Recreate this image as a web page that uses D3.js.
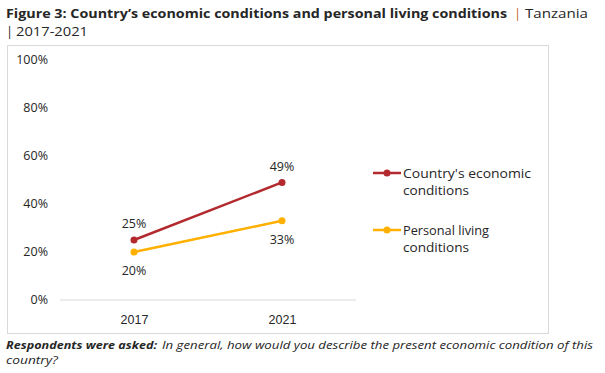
<!DOCTYPE html>
<html lang="en">
<head>
<meta charset="UTF-8">
<title>Figure 3: Country's economic conditions and personal living conditions</title>
<script src="https://cdnjs.cloudflare.com/ajax/libs/d3/7.8.5/d3.min.js"></script>
<style>
    body { margin: 0; background: #fff; }
    svg { display: block; font-family: 'Open Sans', sans-serif; }
    text { fill: #262626; }
</style>
</head>
<body>
<div id="chart"></div>
<script>
// data
const years = ["2017", "2021"];
const economicValues = [25, 49];
const personalValues = [20, 33];
const seriesNames = ["Country's economic conditions", "Personal living conditions"];
const yTicks = [0, 20, 40, 60, 80, 100];

const width = 605, height = 373;
const svg = d3.select("#chart").append("svg")
    .attr("width", width)
    .attr("height", height);

// helper: text stretched to a measured width
function label(x0, y0, str, len, size, extra) {
    const t = svg.append("text").attr("x", x0).attr("y", y0)
        .style("font-size", size + "px").text(str);
    if (len) t.attr("textLength", len).attr("lengthAdjust", "spacingAndGlyphs");
    if (extra) extra(t);
    return t;
}

// title
label(6, 18, "Figure 3: Country\u2019s economic conditions and personal living conditions", 501, 13,
    t => t.style("font-weight", "bold"));
label(514, 18, "|", null, 13, t => t.style("fill", "#c0622a"));
label(525, 18, "Tanzania", 63, 13);
label(6, 36, "|", null, 13);
label(16, 36, "2017-2021", 72, 13);

// chart frame
svg.append("rect")
    .attr("x", 7.5).attr("y", 45.5)
    .attr("width", 541).attr("height", 288)
    .attr("fill", "none").attr("stroke", "#d9d9d9");

const x = d3.scalePoint().domain(years).range([60, 356]).padding(0.5);
const y = d3.scaleLinear().domain([0, 100]).range([300, 60]);

// y axis labels
svg.append("g").selectAll("text")
    .data(yTicks).join("text")
    .attr("x", 48).attr("y", d => y(d))
    .attr("dy", "0.35em")
    .attr("text-anchor", "end")
    .style("font-size", "12.5px")
    .text(d => d + "%");

// x axis
const xAxis = svg.append("g")
    .attr("transform", `translate(0,${y(0)})`)
    .call(d3.axisBottom(x).tickSize(0).tickPadding(15));
xAxis.select(".domain").attr("stroke", "#d9d9d9").attr("d", "M60,0H356");
xAxis.selectAll("text").style("font-size", "12.5px").style("font-family", "inherit").attr("fill", "#262626");

const series = [
    { name: seriesNames[0], values: economicValues, color: "#b22a2e", labelDy: -16 },
    { name: seriesNames[1], values: personalValues, color: "#ffb000", labelDy: 19 }
];

const line = d3.line().x((d, i) => x(years[i])).y(d => y(d));

series.forEach(s => {
    svg.append("path")
        .datum(s.values)
        .attr("d", line)
        .attr("fill", "none")
        .attr("stroke", s.color)
        .attr("stroke-width", 2.5);
    svg.append("g").selectAll("circle")
        .data(s.values).join("circle")
        .attr("cx", (d, i) => x(years[i]))
        .attr("cy", d => y(d))
        .attr("r", 3.5)
        .attr("fill", s.color);
    svg.append("g").selectAll("text")
        .data(s.values).join("text")
        .attr("x", (d, i) => x(years[i]))
        .attr("y", d => y(d) + s.labelDy)
        .attr("dy", "0.35em")
        .attr("text-anchor", "middle")
        .style("font-size", "12.5px")
        .text(d => d + "%");
});

// legend
const legendLines = [["Country's economic", "conditions"], ["Personal living", "conditions"]];
series.forEach((s, i) => {
    const g = svg.append("g").attr("transform", `translate(373,${173 + i * 57})`);
    g.append("line").attr("x1", 0).attr("x2", 28).attr("y1", 0).attr("y2", 0)
        .attr("stroke", s.color).attr("stroke-width", 2.5);
    g.append("circle").attr("cx", 14).attr("cy", 0).attr("r", 3.5).attr("fill", s.color);
    const t = g.append("text").attr("x", 30).attr("y", 0).style("font-size", "13px");
    legendLines[i].forEach((l, j) => {
        t.append("tspan").attr("x", 30).attr("dy", j === 0 ? "0.35em" : "17.8")
            .attr("textLength", j === 0 ? (i === 0 ? 128 : 86) : 66)
            .attr("lengthAdjust", "spacingAndGlyphs")
            .text(l);
    });
});

// footer
label(6, 349, "Respondents were asked:", 151, 11,
    t => t.style("font-weight", "bold").style("font-style", "italic"));
label(162, 349, "In general, how would you describe the present economic condition of this", 431, 11,
    t => t.style("font-style", "italic"));
label(6, 364, "country?", 52, 11, t => t.style("font-style", "italic"));
</script>
</body>
</html>
